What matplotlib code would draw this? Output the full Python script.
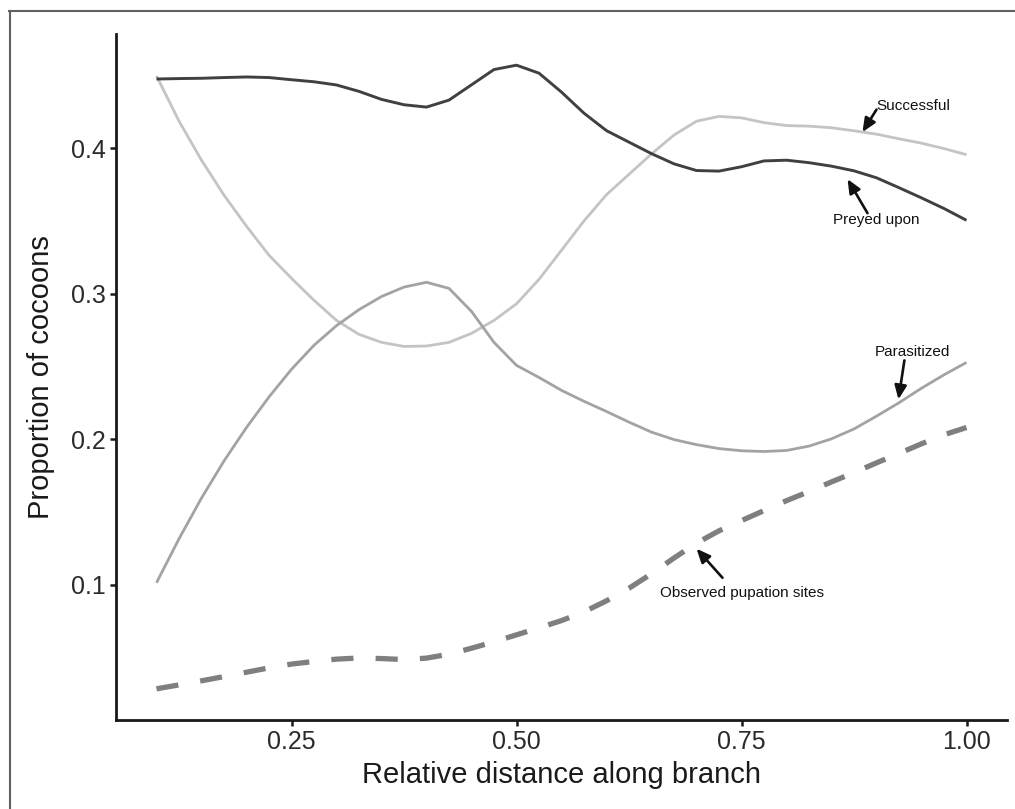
import matplotlib
matplotlib.use("Agg")
import matplotlib.pyplot as plt
from matplotlib.lines import Line2D

plt.rcParams['font.family'] = ['Liberation Sans', 'DejaVu Sans']

# x positions (relative distance along branch)
x = [0.100, 0.125, 0.150, 0.175, 0.200, 0.225, 0.250, 0.275, 0.300, 0.325,
     0.350, 0.375, 0.400, 0.425, 0.450, 0.475, 0.500, 0.525, 0.550, 0.575,
     0.600, 0.625, 0.650, 0.675, 0.700, 0.725, 0.750, 0.775, 0.800, 0.825,
     0.850, 0.875, 0.900, 0.925, 0.950, 0.975, 1.000]

preyed = [0.4475, 0.4478, 0.4480, 0.4485, 0.4489, 0.4485, 0.4470, 0.4456, 0.4434, 0.4390,
          0.4335, 0.4298, 0.4282, 0.4330, 0.4435, 0.4540, 0.4570, 0.4515, 0.4385, 0.4240,
          0.4120, 0.4041, 0.3962, 0.3892, 0.3846, 0.3842, 0.3872, 0.3912, 0.3917, 0.3900,
          0.3876, 0.3844, 0.3796, 0.3728, 0.3658, 0.3585, 0.3504]

successful = [0.4496, 0.4186, 0.3917, 0.3677, 0.3463, 0.3264, 0.3105, 0.2954, 0.2816, 0.2720,
              0.2665, 0.2637, 0.2640, 0.2665, 0.2727, 0.2816, 0.2930, 0.3098, 0.3298, 0.3500,
              0.3680, 0.3820, 0.3960, 0.4090, 0.4185, 0.4218, 0.4208, 0.4175, 0.4155, 0.4151,
              0.4140, 0.4119, 0.4096, 0.4064, 0.4034, 0.3997, 0.3955]

parasitized = [0.1013, 0.1315, 0.1595, 0.1850, 0.2080, 0.2290, 0.2480, 0.2645, 0.2780, 0.2890,
               0.2980, 0.3045, 0.3078, 0.3036, 0.2878, 0.2665, 0.2507, 0.2424, 0.2335, 0.2260,
               0.2190, 0.2117, 0.2048, 0.1997, 0.1962, 0.1935, 0.1920, 0.1915, 0.1922, 0.1952,
               0.2002, 0.2070, 0.2158, 0.2250, 0.2350, 0.2442, 0.2527]

observed = [0.0284, 0.0311, 0.0339, 0.0368, 0.0398, 0.0428, 0.0454, 0.0472, 0.0488, 0.0496,
            0.0492, 0.0485, 0.0495, 0.0522, 0.0563, 0.0607, 0.0655, 0.0703, 0.0753, 0.0813,
            0.0889, 0.0975, 0.1075, 0.1183, 0.1285, 0.1370, 0.1440, 0.1509, 0.1577, 0.1640,
            0.1706, 0.1770, 0.1837, 0.1902, 0.1968, 0.2030, 0.2080]

xticks = [0.25, 0.50, 0.75, 1.00]
xticklabels = ["0.25", "0.50", "0.75", "1.00"]
yticks = [0.1, 0.2, 0.3, 0.4]
yticklabels = ["0.1", "0.2", "0.3", "0.4"]

W, H = 1015, 809
fig = plt.figure(figsize=(W / 100, H / 100), dpi=100)
ax = fig.add_axes([116 / W, 1 - 720 / H, (1007 - 116) / W, (720 - 34) / H])

# outer frame (partially visible)
fig.add_artist(Line2D([9.5 / W, 9.5 / W], [1 - 11 / H, -0.05], transform=fig.transFigure,
                      color="#606060", lw=1.5))
fig.add_artist(Line2D([9 / W, 1.05], [1 - 11 / H, 1 - 11 / H], transform=fig.transFigure,
                      color="#606060", lw=1.5))

ax.plot(x, successful, color="#c4c4c4", lw=2.0, solid_capstyle="butt", solid_joinstyle="round")
ax.plot(x, parasitized, color="#a3a3a3", lw=2.0, solid_capstyle="butt", solid_joinstyle="round")
ax.plot(x, preyed, color="#404040", lw=2.1, solid_capstyle="butt", solid_joinstyle="round")
ax.plot(x, observed, color="#7f7f7f", lw=3.8, dashes=(4.2, 4.2), dash_capstyle="butt")

xmin, xmax = 0.1, 1.0
ymin, ymax = min(observed), max(preyed)
xpad = (xmax - xmin) * 0.05
ypad = (ymax - ymin) * 0.05
ax.set_xlim(xmin - xpad, xmax + xpad)
ax.set_ylim(ymin - ypad, ymax + ypad)

ax.set_xticks(xticks)
ax.set_xticklabels(xticklabels)
ax.set_yticks(yticks)
ax.set_yticklabels(yticklabels)

for s in ["top", "right"]:
    ax.spines[s].set_visible(False)
for s in ["left", "bottom"]:
    ax.spines[s].set_linewidth(2.0)
    ax.spines[s].set_color("#1a1a1a")
ax.tick_params(axis="both", length=4, width=1.8, color="#1a1a1a",
               labelsize=18, labelcolor="#2b2b2b", pad=3.5)

ax.set_xlabel("Relative distance along branch", fontsize=21, color="#1a1a1a", labelpad=5)
ax.set_ylabel("Proportion of cocoons", fontsize=21, color="#1a1a1a", labelpad=11)

arrow = dict(arrowstyle="-|>,head_length=0.55,head_width=0.24", color="#111111",
             lw=1.9, shrinkA=0, shrinkB=0, mutation_scale=15)
tfs = 11

# Successful
ax.text(0.900, 0.4289, "Successful", fontsize=tfs, ha="left", va="center", color="#111111")
ax.annotate("", xy=(0.8844, 0.4110), xytext=(0.9, 0.4265), arrowprops=arrow)
# Preyed upon
ax.text(0.900, 0.3504, "Preyed upon", fontsize=tfs, ha="center", va="center", color="#111111")
ax.annotate("", xy=(0.8678, 0.3787), xytext=(0.890, 0.3553), arrowprops=arrow)
# Parasitized
ax.text(0.940, 0.2596, "Parasitized", fontsize=tfs, ha="center", va="center", color="#111111")
ax.annotate("", xy=(0.9244, 0.2273), xytext=(0.931, 0.2541), arrowprops=arrow)
# Observed pupation sites
ax.text(0.750, 0.0944, "Observed pupation sites", fontsize=tfs, ha="center", va="center",
        color="#111111")
ax.annotate("", xy=(0.700, 0.1247), xytext=(0.7289, 0.1047), arrowprops=arrow)

fig.savefig("out.png", dpi=100, facecolor="white")
